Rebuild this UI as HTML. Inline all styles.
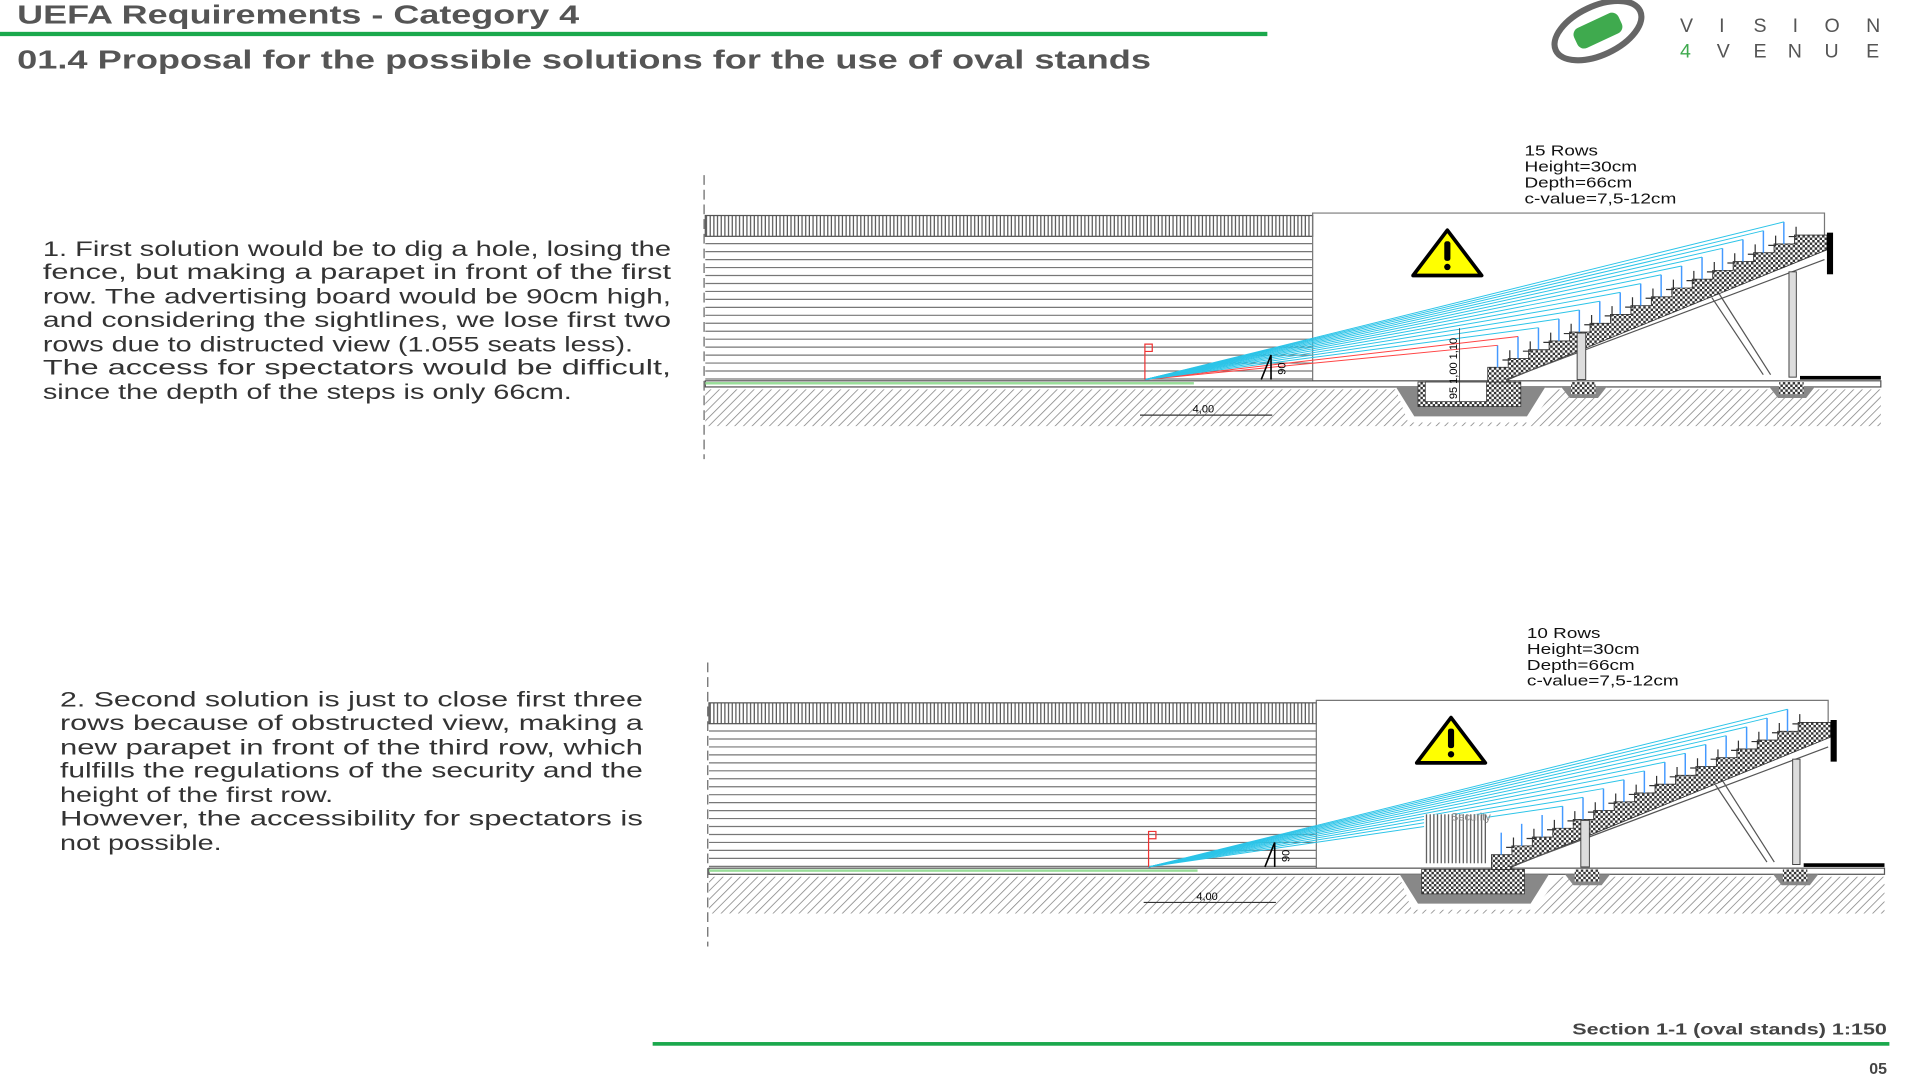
<!DOCTYPE html>
<html><head><meta charset="utf-8">
<style>
html,body{margin:0;padding:0;background:#fff;width:1920px;height:1080px;overflow:hidden}
svg{display:block}
text{font-family:"Liberation Sans",sans-serif}
</style></head><body>
<svg id="s" width="1920" height="1080" viewBox="0 0 1568 882" xmlns="http://www.w3.org/2000/svg">
<defs>
<pattern id="hatch" width="5" height="5" patternUnits="userSpaceOnUse" patternTransform="rotate(45)">
<rect width="5" height="5" fill="#fff"/><line x1="0" y1="0" x2="0" y2="5" stroke="#888" stroke-width="1.3"/></pattern>
<pattern id="chk" width="4" height="4" patternUnits="userSpaceOnUse">
<rect width="4" height="4" fill="#fff"/><rect width="2" height="2" fill="#333"/><rect x="2" y="2" width="2" height="2" fill="#333"/></pattern>
<pattern id="vl" width="3" height="10" patternUnits="userSpaceOnUse">
<rect width="3" height="10" fill="#fff"/><line x1="1" y1="0" x2="1" y2="10" stroke="#555" stroke-width="1"/></pattern>
</defs>
<text x="14" y="19" font-size="21" font-weight="bold" fill="#555" textLength="459" lengthAdjust="spacingAndGlyphs">UEFA Requirements  - Category 4</text>
<rect x="0" y="26" width="1035" height="3.5" fill="#1aa84c"/>
<text x="14" y="56" font-size="21" font-weight="bold" fill="#555" textLength="926" lengthAdjust="spacingAndGlyphs">01.4 Proposal for the possible solutions for the use of oval stands</text>
<g transform="translate(1305,25) rotate(-25)">
<ellipse cx="0" cy="0" rx="38" ry="20" fill="none" stroke="#666" stroke-width="5"/>
<rect x="-20" y="-9" width="40" height="18" rx="6" fill="#3faa4e"/>
</g>
<g font-size="16" fill="#555">
<text x="1372" y="26">V</text><text x="1404" y="26">I</text><text x="1432" y="26">S</text><text x="1464" y="26">I</text><text x="1490" y="26">O</text><text x="1524" y="26">N</text>
<text x="1372" y="47" fill="#3faa4e">4</text><text x="1402" y="47">V</text><text x="1432" y="47">E</text><text x="1460" y="47">N</text><text x="1490" y="47">U</text><text x="1524" y="47">E</text>
</g>
<g font-size="17" fill="#333" lengthAdjust="spacingAndGlyphs">
<text x="35" y="209" textLength="513" lengthAdjust="spacingAndGlyphs">1. First solution would be to dig a hole, losing the</text>
<text x="35" y="228" textLength="513" lengthAdjust="spacingAndGlyphs">fence, but making a parapet in front of the first</text>
<text x="35" y="248" textLength="513" lengthAdjust="spacingAndGlyphs">row. The advertising board would be 90cm high,</text>
<text x="35" y="267" textLength="513" lengthAdjust="spacingAndGlyphs">and considering the sightlines, we lose first two</text>
<text x="35" y="287" textLength="482" lengthAdjust="spacingAndGlyphs">rows due to distructed view (1.055 seats less).</text>
<text x="35" y="306" textLength="513" lengthAdjust="spacingAndGlyphs">The access for spectators would be difficult,</text>
<text x="35" y="326" textLength="432" lengthAdjust="spacingAndGlyphs">since the depth of the steps is only 66cm.</text>
<text x="49" y="577" textLength="476" lengthAdjust="spacingAndGlyphs">2. Second solution is just to close first three</text>
<text x="49" y="596" textLength="476" lengthAdjust="spacingAndGlyphs">rows because of obstructed view, making a</text>
<text x="49" y="616" textLength="476" lengthAdjust="spacingAndGlyphs">new parapet in front of the third row, which</text>
<text x="49" y="635" textLength="476" lengthAdjust="spacingAndGlyphs">fulfills the regulations of the security and the</text>
<text x="49" y="655" textLength="223" lengthAdjust="spacingAndGlyphs">height of the first row.</text>
<text x="49" y="674" textLength="476" lengthAdjust="spacingAndGlyphs">However, the accessibility for spectators is</text>
<text x="49" y="694" textLength="132" lengthAdjust="spacingAndGlyphs">not possible.</text>
</g>
<g font-size="12" fill="#111">
<text x="1245" y="127" textLength="60" lengthAdjust="spacingAndGlyphs">15 Rows</text><text x="1245" y="140" textLength="92" lengthAdjust="spacingAndGlyphs">Height=30cm</text><text x="1245" y="153" textLength="88" lengthAdjust="spacingAndGlyphs">Depth=66cm</text><text x="1245" y="166" textLength="124" lengthAdjust="spacingAndGlyphs">c-value=7,5-12cm</text>
<text x="1247" y="521" textLength="60" lengthAdjust="spacingAndGlyphs">10 Rows</text><text x="1247" y="534" textLength="92" lengthAdjust="spacingAndGlyphs">Height=30cm</text><text x="1247" y="547" textLength="88" lengthAdjust="spacingAndGlyphs">Depth=66cm</text><text x="1247" y="560" textLength="124" lengthAdjust="spacingAndGlyphs">c-value=7,5-12cm</text>
</g>
<rect x="533" y="851" width="1010" height="3" fill="#1aa84c"/>
<text x="1284" y="845" font-size="13" font-weight="bold" fill="#444" textLength="257" lengthAdjust="spacingAndGlyphs">Section 1-1 (oval stands) 1:150</text>
<text x="1541" y="877" font-size="13" font-weight="bold" fill="#444" text-anchor="end">05</text>
<g id="d1"></g><g id="d2"></g>
</svg>
<script>
var NS="http://www.w3.org/2000/svg";
function el(p,t,a){var e=document.createElementNS(NS,t);for(var k in a)e.setAttribute(k,a[k]);p.appendChild(e);return e;}
function draw(g,dx,dy,rows,sec){
 g.setAttribute("transform","translate("+dx+","+dy+")");
 el(g,"line",{x1:575,y1:143,x2:575,y2:375,stroke:"#666","stroke-dasharray":"8 4"});
 el(g,"rect",{x:576,y:176,width:496,height:17,fill:"url(#vl)",stroke:"#555","stroke-width":1});
 for(var y=199;y<312;y+=6.5)el(g,"line",{x1:576,y1:y,x2:1072,y2:y,stroke:"#777","stroke-width":1});
 el(g,"polyline",{points:"1072,312 1072,174 1490,174 1490,195",fill:"none",stroke:"#777","stroke-width":1});
 el(g,"polygon",{points:"576,318 1140,318 1150,345 1250,345 1270,318 1536,318 1536,348 576,348",fill:"url(#hatch)"});
 el(g,"rect",{x:576,y:311,width:960,height:5,fill:"#fff",stroke:"#555","stroke-width":1});
 el(g,"rect",{x:576,y:312,width:399,height:2,fill:"#9d9"});
 el(g,"polygon",{points:"1140,316 1262,316 1247,340 1155,340",fill:"#888"});
 el(g,"rect",{x:1158,y:312,width:84,height:20,fill:"url(#chk)",stroke:"#333","stroke-width":0.6});
 if(!sec)el(g,"rect",{x:1164,y:312,width:50,height:16,fill:"#fff",stroke:"#333","stroke-width":0.6});
 el(g,"polygon",{points:"1275,316 1312,316 1305,325 1282,325",fill:"#888"});
 el(g,"rect",{x:1283,y:312,width:20,height:10,fill:"url(#chk)"});
 el(g,"polygon",{points:"1445,316 1482,316 1475,325 1452,325",fill:"#888"});
 el(g,"rect",{x:1453,y:312,width:20,height:10,fill:"url(#chk)"});
 el(g,"rect",{x:1470,y:307,width:66,height:3,fill:"#000"});
 var x0=1215,y0=300,n=15,w=16.7,h=7.2,pts=[x0+","+(y0+12)];
 for(var i=0;i<n;i++){var x=x0+i*w,y=y0-i*h;pts.push(x+","+y);pts.push((x+w)+","+y);}
 var xe=x0+n*w,ye=y0-n*h;
 pts.push(xe+","+ye);pts.push("1492,"+ye);pts.push("1492,"+(ye+12));pts.push((x0+w)+","+(y0+10));pts.push((x0+w)+","+(y0+12));
 el(g,"polygon",{points:pts.join(" "),fill:"url(#chk)",stroke:"#333","stroke-width":0.7});
 el(g,"rect",{x:1492,y:190,width:5,height:34,fill:"#000"});
 el(g,"line",{x1:1230,y1:310,x2:1490,y2:212,stroke:"#555","stroke-width":1});
 el(g,"rect",{x:1461,y:222,width:6,height:86,fill:"#ddd",stroke:"#444","stroke-width":0.8});
 el(g,"rect",{x:1288,y:272,width:7,height:38,fill:"#ddd",stroke:"#444","stroke-width":0.8});
 el(g,"line",{x1:1398,y1:243,x2:1440,y2:306,stroke:"#555","stroke-width":1});
 el(g,"line",{x1:1404,y1:240,x2:1446,y2:306,stroke:"#555","stroke-width":1});
 var ex=935,ey=310,start=sec?3:0;
 for(var i=0;i<n;i++){var x=x0+i*w+8,y=y0-i*h;
  el(g,"line",{x1:x,y1:y,x2:x,y2:y-18,stroke:"#49f","stroke-width":1.2});
  el(g,"polyline",{points:(x+4)+","+(y-6)+" "+(x+10)+","+(y-6)+" "+(x+10)+","+(y-14),fill:"none",stroke:"#333","stroke-width":1});
  if(i>=start)el(g,"line",{x1:ex,y1:ey,x2:x,y2:y-18,stroke:(!sec&&i<2)?"#f44":"#2cc4e8","stroke-width":0.8});
 }
 el(g,"polyline",{points:"935,310 935,281 941,281 941,287 935,287",fill:"none",stroke:"#e33","stroke-width":1});
 el(g,"line",{x1:1030,y1:310,x2:1038,y2:290,stroke:"#000","stroke-width":1.3});
 el(g,"line",{x1:1038,y1:290,x2:1038,y2:310,stroke:"#000","stroke-width":1.3});
 var t=el(g,"text",{x:0,y:0,"font-size":9,transform:"translate(1050,306) rotate(-90)"});t.textContent="90";
 el(g,"line",{x1:931,y1:339,x2:1039,y2:339,stroke:"#333","stroke-width":1});
 t=el(g,"text",{x:974,y:337,"font-size":9});t.textContent="4,00";
 el(g,"polygon",{points:"1182,188 1210,225 1154,225",fill:"#ff0",stroke:"#000","stroke-width":3,"stroke-linejoin":"round"});
 el(g,"rect",{x:1179.5,y:197,width:5,height:16,rx:2,fill:"#000"});
 el(g,"circle",{cx:1182,cy:218,r:2.6,fill:"#000"});
 if(sec){el(g,"rect",{x:1160,y:267,width:52,height:40,fill:"url(#vl)"});
  t=el(g,"text",{x:1182,y:272,"font-size":9,fill:"#888"});t.textContent="Security";}
 else{t=el(g,"text",{x:0,y:0,"font-size":9,transform:"translate(1190,326) rotate(-90)"});t.textContent="95  1,00  1,10";
  el(g,"line",{x1:1192,y1:268,x2:1192,y2:328,stroke:"#333","stroke-width":0.7});}
}
draw(document.getElementById("d1"),0,0,15,false);
draw(document.getElementById("d2"),3,398,10,true);
</script>
</body></html>
